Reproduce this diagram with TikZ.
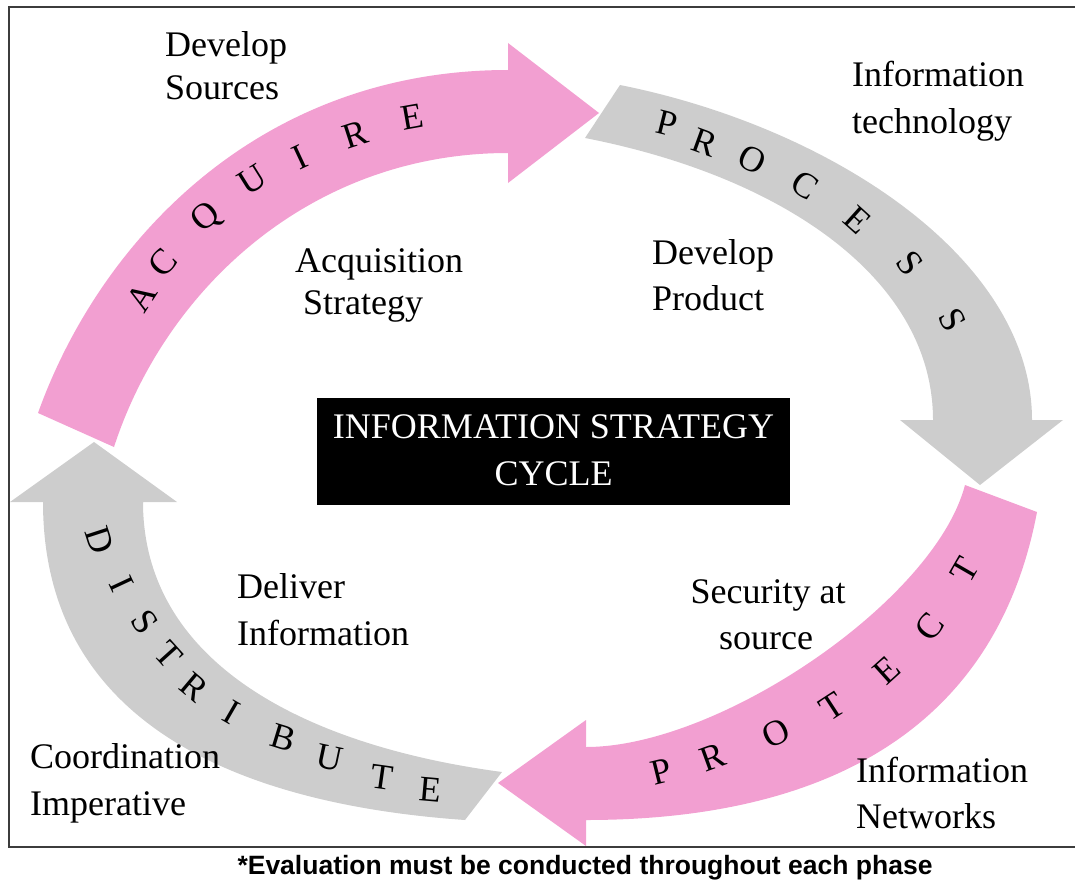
\documentclass[tikz,border=0pt]{standalone}
\usepackage{fontspec}
\setmainfont{Liberation Serif}
\newfontfamily\footfont{Liberation Sans}
\definecolor{arrowpink}{RGB}{242,159,209}
\definecolor{arrowgray}{RGB}{205,205,205}
\definecolor{framegray}{RGB}{60,60,60}
\begin{document}
\begin{tikzpicture}[x=1pt,y=-1pt,
  body/.style={font=\fontsize{36}{43}\selectfont, inner sep=0pt, anchor=base west},
  bodyc/.style={font=\fontsize{36}{43}\selectfont, inner sep=0pt, anchor=base},
  letter/.style={font=\fontsize{36}{36}\selectfont, inner sep=0pt, anchor=center},
  title/.style={font=\fontsize{36}{43}\selectfont, inner sep=0pt, anchor=base, text=white},
]
\useasboundingbox (0,0) rectangle (1075,880);
% frame
\draw[framegray, line width=1.6pt] (1090,7) -- (9,7) -- (9,847) -- (1090,847);

% ACQUIRE arrow (pink)
\fill[arrowpink] (38,413) .. controls (100,240) and (260,70) .. (508,70)
  -- (508,43) -- (599,113) -- (508,183) -- (508,153)
  .. controls (310,153) and (165,290) .. (114,447) -- cycle;
% PROCESS arrow (gray)
\fill[arrowgray] (620,85) .. controls (830,127) and (1032,258) .. (1032,420)
  -- (1063,420) -- (980,485) -- (900,420) -- (933,420)
  .. controls (933,280) and (785,177) .. (585,138) -- cycle;
% PROTECT arrow (pink)
\fill[arrowpink] (1037,512) .. controls (990,760) and (780,820) .. (586,820)
  -- (586,846) -- (498,783) -- (586,720) -- (586,747)
  .. controls (720,747) and (935,600) .. (965,485) -- cycle;
% DISTRIBUTE arrow (gray)
\fill[arrowgray] (465,820) .. controls (250,805) and (43,730) .. (43,502)
  -- (10,502) -- (94,442) -- (177,502) -- (143,502)
  .. controls (143,660) and (300,745) .. (502,772) -- cycle;

% letters along the arrows
\foreach \l/\x/\y/\r [count=\i] in {A/142/297/57, C/163/263/48, Q/207/218/40, U/252/180/32, I/300/157/25, R/355/135/18, E/412/117/10}
  \node[letter, rotate=\r] (acq\i) at (\x,\y) {\l};
\foreach \l/\x/\y/\r [count=\i] in {P/667/123/-14, R/705/143/-20, O/752/160/-26, C/805/185/-33, E/858/220/-42, S/910/263/-52, S/953/320/-62}
  \node[letter, rotate=\r] (pro\i) at (\x,\y) {\l};
\foreach \l/\x/\y/\r [count=\i] in {P/661/772/14, R/713/757/20, O/776/733/26, T/832/707/33, E/887/670/42, C/930/627/52, T/965/570/60}
  \node[letter, rotate=\r] (prt\i) at (\x,\y) {\l};
\foreach \l/\x/\y/\r [count=\i] in {D/100/540/-72, I/122/584/-65, S/145/622/-55, T/169/655/-48, R/194/687/-40, I/232/712/-30, B/283/738/-17, U/330/758/-12, T/382/777/-8, E/430/790/-5}
  \node[letter, rotate=\r] (dis\i) at (\x,\y) {\l};

% surrounding texts
\node[body] (ds1) at (165,57) {Develop};
\node[body] (ds2) at (165,100) {Sources};
\node[body] (it1) at (852,87) {Information};
\node[body] (it2) at (852,133) {technology};
\node[body] (as1) at (295,272) {Acquisition};
\node[body] (as2) at (303,314) {Strategy};
\node[body] (dp1) at (652,264) {Develop};
\node[body] (dp2) at (652,310) {Product};
\node[body] (di1) at (237,598) {Deliver};
\node[body] (di2) at (237,645) {Information};
\node[bodyc] (ss1) at (768,603) {Security at};
\node[bodyc] (ss2) at (766,649) {source};
\node[body] (ci1) at (30,768) {Coordination};
\node[body] (ci2) at (30,815) {Imperative};
\node[body] (in1) at (856,782) {Information};
\node[body] (in2) at (856,828) {Networks};

% centre box
\fill[black] (317,398) rectangle (790,505);
\node[title] (ct1) at (553.5,438) {INFORMATION STRATEGY};
\node[title] (ct2) at (553.5,485) {CYCLE};

% footnote
\node[inner sep=0pt, anchor=base, font=\footfont\bfseries\fontsize{26.5}{30}\selectfont] (foot) at (585,874) {*Evaluation must be conducted throughout each phase};
\end{tikzpicture}
\end{document}
